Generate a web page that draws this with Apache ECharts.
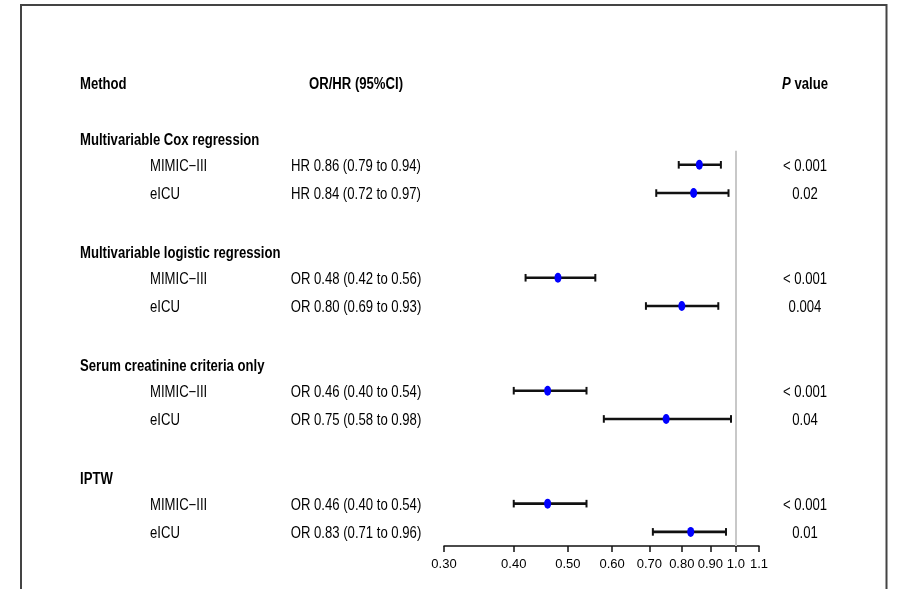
<!DOCTYPE html>
<html><head><meta charset="utf-8">
<script src="https://cdn.jsdelivr.net/npm/echarts@6/dist/echarts.min.js"></script>
<style>html,body{margin:0;padding:0;background:#fff}#c{width:897px;height:589px}</style>
</head><body><div id="c"></div>
<script>
// ---- data ----
const groups = ['Multivariable Cox regression', 'Multivariable logistic regression', 'Serum creatinine criteria only', 'IPTW'];
const cohorts = ['MIMIC\u2212III', 'eICU'];
const measure = ['HR', 'HR', 'OR', 'OR', 'OR', 'OR', 'OR', 'OR'];
const estimate = [0.86, 0.84, 0.48, 0.80, 0.46, 0.75, 0.46, 0.83];
const lower = [0.79, 0.72, 0.42, 0.69, 0.40, 0.58, 0.40, 0.71];
const upper = [0.94, 0.97, 0.56, 0.93, 0.54, 0.98, 0.54, 0.96];
const pValues = ['< 0.001', '0.02', '< 0.001', '0.004', '< 0.001', '0.04', '< 0.001', '0.01'];
const xTicks = [0.30, 0.40, 0.50, 0.60, 0.70, 0.80, 0.90, 1.0, 1.1];
const xTickLabels = ['0.30', '0.40', '0.50', '0.60', '0.70', '0.80', '0.90', '1.0', '1.1'];
const headers = ['Method', 'OR/HR (95%CI)', 'P value'];
const refValue = 1.0;

// ---- build rows ----
const rowOf = i => Math.floor(i / 2) * 4 + (i % 2);   // entry rows
const texts = []; // {row, col, text, bold}
texts.push({row: -3, col: 'method', text: headers[0], bold: true});
texts.push({row: -3, col: 'est', text: headers[1], bold: true});
texts.push({row: -3, col: 'p', text: '{i|P} value', bold: true, rich: true});
groups.forEach((g, gi) => texts.push({row: gi * 4 - 1, col: 'method', text: g, bold: true}));
estimate.forEach((v, i) => {
  const r = rowOf(i);
  texts.push({row: r, col: 'cohort', text: cohorts[i % 2]});
  texts.push({row: r, col: 'est', text: measure[i] + ' ' + v.toFixed(2) + ' (' + lower[i].toFixed(2) + ' to ' + upper[i].toFixed(2) + ')'});
  texts.push({row: r, col: 'p', text: pValues[i]});
});
const colX = {method: 80, cohort: 150, est: 356, p: 805};
const colAlign = {method: 'left', cohort: 'left', est: 'center', p: 'center'};
const FONT = "'Liberation Sans', Arial, sans-serif";

const chart = echarts.init(document.getElementById('c'), null, {renderer: 'canvas'});
chart.setOption({
  animation: false,
  backgroundColor: '#fff',
  graphic: [{
    type: 'rect', shape: {x: 21, y: 5, width: 865.5, height: 620},
    style: {fill: 'none', stroke: '#444', lineWidth: 2}, silent: true
  }],
  grid: {left: 444, width: 315, top: 66, height: 480},
  xAxis: {
    type: 'log', logBase: 10, min: 0.3, max: 1.1,
    axisLine: {show: true, onZero: false, lineStyle: {color: '#111', width: 1.5}},
    axisTick: {show: true, length: 6, lineStyle: {color: '#111', width: 1.5}, customValues: xTicks},
    axisLabel: {
      customValues: xTicks, color: '#000', fontSize: 13, fontFamily: FONT, margin: 12,
      formatter: v => { const k = xTicks.findIndex(t => Math.abs(t - v) < 1e-6); return k >= 0 ? xTickLabels[k] : ''; }
    },
    splitLine: {show: false}, minorTick: {show: false}
  },
  yAxis: {type: 'value', inverse: true, min: -3.5, max: 13.5, show: false},
  series: [
    {
      type: 'custom', clip: false, silent: true,
      data: estimate.map((v, i) => [lower[i], upper[i], rowOf(i)]),
      renderItem: (params, api) => {
        const a = api.coord([api.value(0), api.value(2)]);
        const b = api.coord([api.value(1), api.value(2)]);
        const st = {stroke: '#111', lineWidth: 2.6};
        const h = 3.8;
        return {type: 'group', children: [
          {type: 'line', shape: {x1: a[0], y1: a[1], x2: b[0], y2: b[1]}, style: st},
          {type: 'line', shape: {x1: a[0], y1: a[1] - h, x2: a[0], y2: a[1] + h}, style: {stroke: '#111', lineWidth: 2}},
          {type: 'line', shape: {x1: b[0], y1: b[1] - h, x2: b[0], y2: b[1] + h}, style: {stroke: '#111', lineWidth: 2}}
        ]};
      },
      z: 3
    },
    {
      type: 'scatter', silent: true,
      data: estimate.map((v, i) => [v, rowOf(i)]),
      symbol: 'circle', symbolSize: [7, 10],
      itemStyle: {color: '#0000ff', opacity: 1},
      z: 5,
      markLine: {
        silent: true, symbol: 'none', label: {show: false},
        lineStyle: {color: '#c8c8c8', width: 2, type: 'solid'},
        data: [[{coord: [refValue, -0.5]}, {coord: [refValue, 13.5]}]],
        z: 1
      }
    },
    {
      type: 'custom', clip: false, silent: true,
      data: texts.map((t, i) => [refValue, t.row, i]),
      renderItem: (params, api) => {
        const t = texts[api.value(2)];
        const y = api.coord([refValue, api.value(1)])[1] + (t.bold ? 4 : 1.5);
        const style = {
          text: t.text, x: 0, y: 0, fill: '#000',
          font: (t.bold ? 'bold ' : '') + '16px ' + FONT,
          align: colAlign[t.col], verticalAlign: 'middle'
        };
        if (t.rich) {
          style.rich = {i: {fontStyle: 'italic', fontWeight: 'bold', fontSize: 16, fontFamily: FONT, fill: '#000'}};
        }
        return {type: 'text', x: colX[t.col], y: y, scaleX: 0.82, style: style};
      },
      z: 6
    }
  ]
});
</script>
</body></html>
